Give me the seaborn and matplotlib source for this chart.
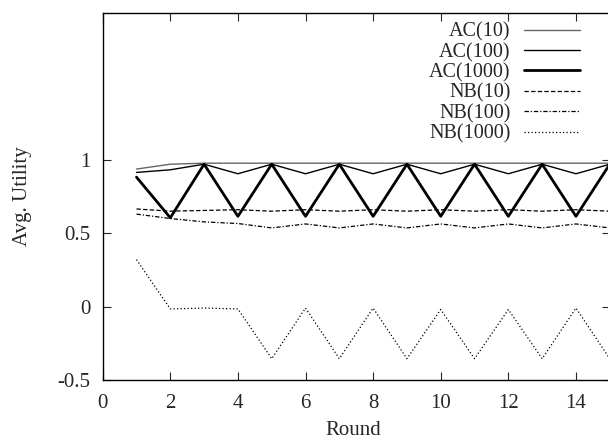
import numpy as np
import pandas as pd
import matplotlib
matplotlib.use("Agg")
import matplotlib.pyplot as plt
import seaborn as sns

# values, rounds 1..15
rounds = list(range(1, 16))
ac_10 = [0.937, 0.97, 0.977, 0.977, 0.977, 0.977, 0.977, 0.977, 0.977, 0.977, 0.977, 0.977, 0.977, 0.977, 0.977]
ac_100 = [0.914, 0.932, 0.97, 0.905, 0.97, 0.905, 0.97, 0.905, 0.97, 0.905, 0.97, 0.905, 0.97, 0.905, 0.97]
ac_1000 = [0.882, 0.605, 0.97, 0.615, 0.97, 0.615, 0.97, 0.615, 0.97, 0.615, 0.97, 0.615, 0.97, 0.615, 0.97]
nb_10 = [0.665, 0.65, 0.655, 0.66, 0.65, 0.66, 0.65, 0.66, 0.65, 0.66, 0.65, 0.66, 0.65, 0.66, 0.65]
nb_100 = [0.63, 0.60, 0.577, 0.566, 0.536, 0.563, 0.536, 0.563, 0.536, 0.563, 0.536, 0.563, 0.536, 0.563, 0.536]
nb_1000 = [0.32, -0.016, -0.01, -0.016, -0.355, -0.01, -0.355, -0.01, -0.355, -0.02, -0.355, -0.02, -0.355, -0.01, -0.355]

series_names = ["AC(10)", "AC(100)", "AC(1000)", "NB(10)", "NB(100)", "NB(1000)"]
series_vals = [ac_10, ac_100, ac_1000, nb_10, nb_100, nb_1000]

sns.set_style("ticks")
plt.rcParams["font.family"] = ["Liberation Serif", "DejaVu Serif"]
plt.rcParams["font.size"] = 15

styles = {
    "AC(10)": dict(color="#666666", lw=1.0, linestyle="-"),
    "AC(100)": dict(color="black", lw=1.0, linestyle="-"),
    "AC(1000)": dict(color="black", lw=2.0, linestyle="-"),
    "NB(10)": dict(color="black", lw=0.9, linestyle=(0, (3.5, 1.8))),
    "NB(100)": dict(color="black", lw=0.9, linestyle=(0, (3.5, 1.5, 1, 1.5))),
    "NB(1000)": dict(color="black", lw=0.9, linestyle=(0, (1, 1.8))),
}

fig = plt.figure(figsize=(6.08, 4.4), dpi=100)
ax = fig.add_axes([0.1689, 0.1364, 0.834, 0.834])

for name, vals in zip(series_names, series_vals):
    df = pd.DataFrame({"Round": rounds, "Avg. Utility": vals})
    sns.lineplot(data=df, x="Round", y="Avg. Utility", ax=ax, label=name, **styles[name])

ax.set_xlim(0, 15)
ax.set_ylim(-0.5, 2)
ax.set_xticks(np.arange(0, 16, 2))
ax.set_yticks([-0.5, 0, 0.5, 1])
ax.set_yticklabels(["-0.5", "0", "0.5", "1"])
ax.tick_params(direction="in", top=True, right=True, length=6, width=0.8, labelsize=15)
ax.tick_params(axis="x", pad=10)
ax.tick_params(axis="y", pad=9)
for sp in ax.spines.values():
    sp.set_linewidth(1.0)
    sp.set_color("black")

ax.set_xlabel("Round", fontsize=15)
ax.set_ylabel("Avg. Utility", fontsize=15)
ax.xaxis.set_label_coords(0.494, -0.113)
ax.yaxis.set_label_coords(-0.139, 0.5)

ax.legend(loc="upper right", bbox_to_anchor=(0.941, 0.974), frameon=False,
          markerfirst=False, fontsize=14.5, handlelength=2.75, handletextpad=0.7,
          labelspacing=0.055, borderpad=0, borderaxespad=0)

fig.savefig("out.png", dpi=100)
